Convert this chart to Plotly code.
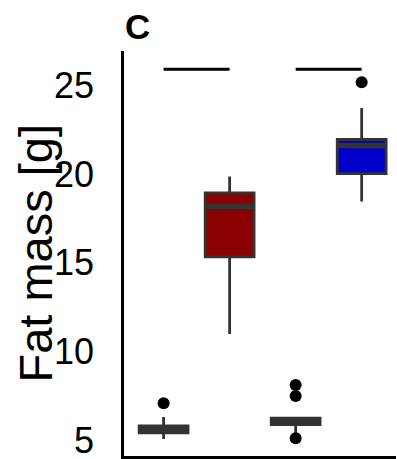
import plotly.graph_objects as go

# ---- data ----
positions = [1, 2, 3, 4]
fill_colors = ["#7f7f7f", "#8B0000", "#7f7f7f", "#0000CD"]
q1 = [5.41, 15.32, 5.87, 20.02]
median = [5.60, 18.18, 6.05, 21.61]
q3 = [5.79, 18.93, 6.24, 21.94]
lower_fence = [5.06, 10.98, 5.40, 18.44]
upper_fence = [6.30, 19.85, 6.24, 23.71]
outlier_x = [1, 3, 3, 3, 4]
outlier_y = [7.07, 8.10, 7.48, 5.10, 25.17]
sig_pairs = [(1, 2), (3, 4)]
sig_level = [25.9, 25.9]
y_ticks = [5, 10, 15, 20, 25]

FONT = "Liberation Sans, Arial, sans-serif"
OUTLINE = "#333333"
BOX_W = 0.74

fig = go.Figure()

for i, p in enumerate(positions):
    fig.add_trace(go.Box(
        x=[p], q1=[q1[i]], median=[median[i]], q3=[q3[i]],
        lowerfence=[lower_fence[i]], upperfence=[upper_fence[i]],
        width=BOX_W, whiskerwidth=0,
        fillcolor=fill_colors[i],
        line=dict(color=OUTLINE, width=2.8),
        boxpoints=False, showlegend=False, hoverinfo="skip",
    ))
    # thicker median bar
    fig.add_trace(go.Scatter(
        x=[p - BOX_W / 2, p + BOX_W / 2], y=[median[i], median[i]],
        mode="lines", line=dict(color=OUTLINE, width=5.5),
        showlegend=False, hoverinfo="skip",
    ))

fig.add_trace(go.Scatter(
    x=outlier_x, y=outlier_y, mode="markers",
    marker=dict(color="black", size=12),
    showlegend=False, hoverinfo="skip",
))

for (a, b), lvl in zip(sig_pairs, sig_level):
    fig.add_trace(go.Scatter(
        x=[a, b], y=[lvl, lvl], mode="lines",
        line=dict(color="black", width=3),
        showlegend=False, hoverinfo="skip",
    ))

fig.update_layout(
    width=397, height=459,
    margin=dict(l=124, r=1, t=51, b=3),
    paper_bgcolor="white", plot_bgcolor="white",
    boxmode="overlay",
    font=dict(family=FONT, color="black"),
    xaxis=dict(range=[0.4, 4.52], showgrid=False, zeroline=False,
               showticklabels=False, ticks="", automargin=False,
               showline=True, linecolor="black", linewidth=2.7),
    yaxis=dict(range=[4.1, 26.93], showgrid=False, zeroline=False,
               tickvals=y_ticks, ticktext=[str(t) for t in y_ticks],
               tickfont=dict(size=36, family=FONT, color="black"),
               ticks="", ticklabelstandoff=20, automargin=False,
               ticklabeloverflow="allow",
               showline=True, linecolor="black", linewidth=2.7),
    annotations=[
        dict(text="Fat mass [g]", textangle=-90, xref="paper", yref="paper",
             x=(35 - 124) / 272, y=0.5, xanchor="center", yanchor="middle",
             showarrow=False, font=dict(size=47, family=FONT, color="black")),
        dict(text="<b>C</b>", xref="paper", yref="paper",
             x=(137.5 - 124) / 272, y=(456 - 27) / 405,
             xanchor="center", yanchor="middle", showarrow=False,
             font=dict(size=35, family=FONT, color="black")),
    ],
)

fig.write_html(
    "out.html",
    config={"displayModeBar": False},
    post_script="document.body.style.margin='0';document.body.style.overflow='hidden';",
)
